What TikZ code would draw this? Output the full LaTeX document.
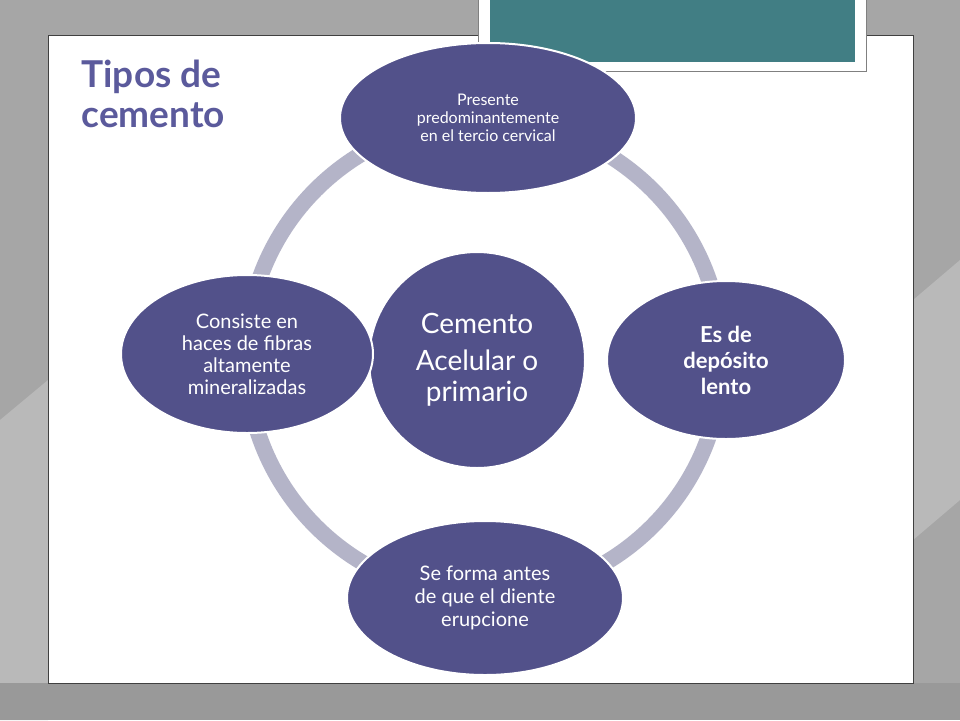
\documentclass[tikz,border=0pt]{standalone}
\usepackage{fontspec}
\setmainfont{Lato}
\usetikzlibrary{shapes.geometric}
\definecolor{nodefill}{HTML}{52518A}
\definecolor{ringc}{HTML}{B4B4C8}
\definecolor{titlec}{HTML}{5B5A9C}
\definecolor{teal}{HTML}{417E84}
\tikzset{
 oval/.style={ellipse,fill=nodefill,draw=white,line width=2pt,text=white,align=center,inner sep=0pt},
}
\begin{document}
\begin{tikzpicture}[x=1pt,y=-1pt]
\useasboundingbox (0,0) rectangle (960,720);
\fill[gray!70] (0,0) rectangle (960,720);
\fill[gray!55] (0,420) -- (48,380) -- (48,720) -- (0,720) -- cycle;
\fill[gray!55] (913,300) -- (960,260) -- (960,500) -- (913,540) -- cycle;
\fill[gray!80] (0,683) rectangle (960,720);
\fill[white] (48,35) rectangle (913,683);
\draw[gray!50!black,line width=0.6pt] (48,35) rectangle (913,683);
\fill[white] (478,-2) rectangle (866,71);
\draw[gray] (478,-2) rectangle (866,71);
\fill[teal] (490,-2) rectangle (855,62);
\node[anchor=north west,text=titlec,font=\fontsize{37}{40}\selectfont\bfseries,align=left] (title) at (78,56) {Tipos de\\cemento};
\coordinate (c) at (484,358);
\draw[ringc,line width=16pt] (c) circle (238);
\node[circle,fill=nodefill,draw=white,line width=2pt,minimum size=216pt,text=white,align=center,font=\fontsize{28}{31}\selectfont] (center) at (477,360) {Cemento\\[6pt]Acelular o\\primario};
\node[oval,minimum width=296pt,minimum height=150pt,font=\fontsize{16}{18}\selectfont] (top) at (488,118) {Presente\\predominantemente\\en el tercio cervical};
\node[oval,minimum width=238pt,minimum height=158pt,font=\fontsize{22}{26}\selectfont\bfseries] (right) at (726,360) {Es de\\depósito\\lento};
\node[oval,minimum width=276pt,minimum height=154pt,font=\fontsize{20}{23}\selectfont] (bottom) at (485,598) {Se forma antes\\de que el diente\\erupcione};
\node[oval,minimum width=252pt,minimum height=158pt,font=\fontsize{20}{22}\selectfont] (left) at (247,354) {Consiste en\\haces de fibras\\altamente\\mineralizadas};
\end{tikzpicture}
\end{document}
